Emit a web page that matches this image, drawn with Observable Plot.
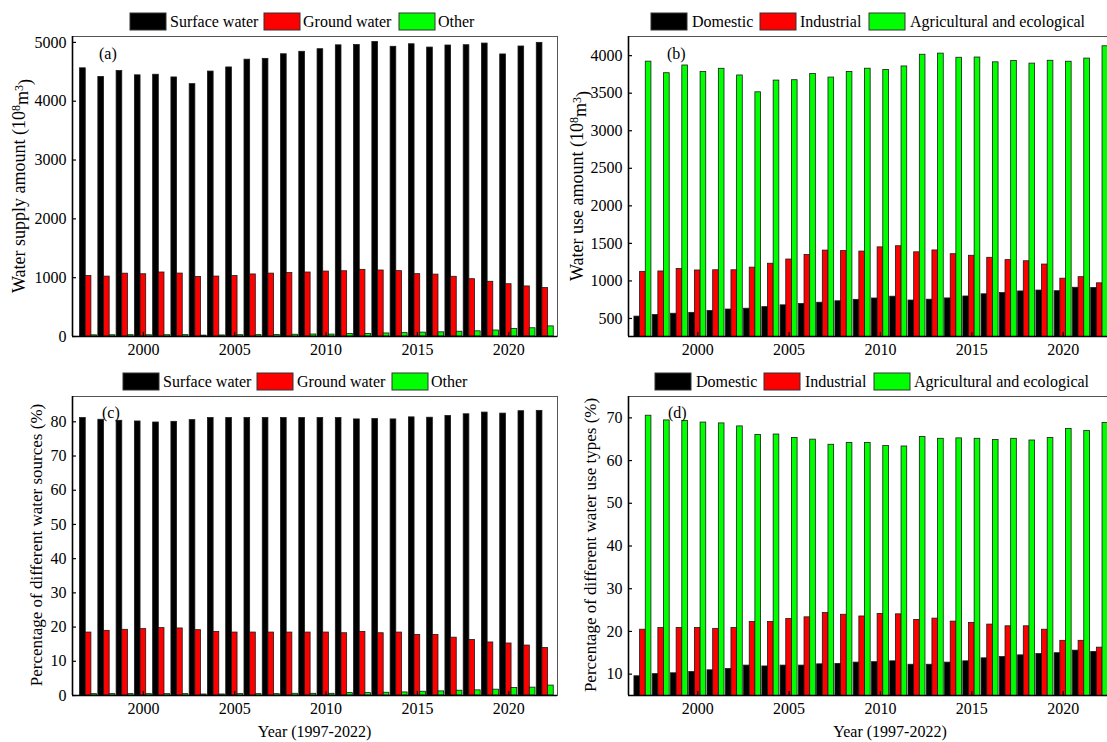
<!DOCTYPE html>
<html>
<head>
<meta charset="utf-8">
<script src="https://cdn.jsdelivr.net/npm/d3@7"></script>
<script src="https://cdn.jsdelivr.net/npm/@observablehq/plot@0.6"></script>
<style>
  html, body { margin: 0; padding: 0; background: #fff; }
  #figure { position: relative; width: 1107px; height: 742px; overflow: hidden; background: #fff; }
  #figure > svg { position: absolute; }
  #figure svg, #figure svg text { font-family: "Liberation Serif", "Times New Roman", serif; }
  #figure svg [aria-label$="tick label"] text, #figure svg g[aria-label$="tick label"] { font-size: 16px; }
</style>
</head>
<body>
<div id="figure"></div>
<script>
// Water supply and use, 1997-2022 (10^8 m^3 and shares in %)
const years = [1997, 1998, 1999, 2000, 2001, 2002, 2003, 2004, 2005, 2006, 2007, 2008, 2009,
               2010, 2011, 2012, 2013, 2014, 2015, 2016, 2017, 2018, 2019, 2020, 2021, 2022];

const sourceNames = ["Surface water", "Ground water", "Other"];
const useNames = ["Domestic", "Industrial", "Agricultural and ecological"];
const barColors = ["#000000", "#ff0000", "#00ff00"];

// (a) supply by source
const supplySurface = [4559, 4412, 4514, 4440, 4450, 4404, 4290, 4504, 4574, 4706, 4720, 4798, 4840,
                       4884, 4950, 4955, 5006, 4925, 4968, 4912, 4947, 4952, 4980, 4795, 4930, 4992];
const supplyGround  = [1028, 1018, 1068, 1058, 1088, 1070, 1013, 1019, 1027, 1055, 1069, 1078, 1088,
                       1104, 1109, 1133, 1122, 1111, 1060, 1052, 1015, 974, 930, 889, 851, 824];
const supplyOther   = [20, 21, 22, 21, 22, 23, 15, 18, 22, 23, 26, 30, 34,
                       33, 42, 44, 52, 57, 66, 71, 81, 88, 102, 127, 140, 172];

// (b) use by sector
const useDomestic   = [525, 545, 563, 575, 600, 619, 630, 651, 675, 693, 710, 729, 748,
                       766, 790, 739, 750, 767, 793, 822, 838, 860, 872, 863, 909, 906];
const useIndustrial = [1121, 1126, 1159, 1139, 1142, 1142, 1177, 1229, 1285, 1344, 1404, 1397, 1391,
                       1447, 1462, 1381, 1406, 1356, 1335, 1308, 1277, 1262, 1218, 1030, 1050, 968];
const useAgriEco    = [3920, 3766, 3869, 3784, 3825, 3736, 3512, 3668, 3673, 3757, 3708, 3783, 3826,
                       3809, 3856, 4012, 4027, 3972, 3975, 3911, 3928, 3894, 3932, 3919, 3961, 4125];

// (c) share of each source (%)
const pctSurface = [81.1, 80.6, 80.3, 80.1, 79.8, 80.0, 80.5, 81.1, 81.1, 81.1, 81.1, 81.1, 81.1,
                    81.1, 81.1, 80.7, 80.8, 80.7, 81.3, 81.2, 81.7, 82.2, 82.7, 82.4, 83.1, 83.2];
const pctGround  = [18.4, 18.9, 19.2, 19.4, 19.7, 19.6, 19.1, 18.6, 18.4, 18.4, 18.4, 18.4, 18.4,
                    18.4, 18.2, 18.6, 18.2, 18.4, 17.7, 17.7, 16.9, 16.2, 15.5, 15.2, 14.6, 13.9];
const pctOther   = [0.4, 0.4, 0.4, 0.4, 0.4, 0.4, 0.3, 0.3, 0.4, 0.4, 0.4, 0.5, 0.5,
                    0.5, 0.7, 0.7, 0.8, 0.9, 1.1, 1.2, 1.4, 1.5, 1.7, 2.2, 2.3, 2.9];

// (d) share of each use type (%)
const pctDomestic   = [9.5, 10.0, 10.2, 10.5, 10.9, 11.2, 12.0, 11.8, 12.0, 12.0, 12.3, 12.4, 12.7,
                       12.8, 13.0, 12.2, 12.2, 12.7, 13.0, 13.7, 14.0, 14.4, 14.7, 14.9, 15.5, 15.2];
const pctIndustrial = [20.4, 20.8, 20.8, 20.8, 20.6, 20.8, 22.2, 22.2, 22.9, 23.3, 24.3, 23.9, 23.5,
                       24.1, 24.0, 22.7, 23.0, 22.3, 22.0, 21.6, 21.2, 21.2, 20.4, 17.8, 17.8, 16.2];
const pctAgriEco    = [70.5, 69.4, 69.3, 68.9, 68.7, 68.0, 66.0, 66.1, 65.3, 64.9, 63.7, 64.1, 64.1,
                       63.4, 63.3, 65.5, 65.1, 65.2, 65.1, 64.8, 65.1, 64.7, 65.3, 67.4, 66.9, 68.8];

const xTickValues = [2000, 2005, 2010, 2015, 2020];
const yTicksA = [0, 1000, 2000, 3000, 4000, 5000];
const yTicksB = [500, 1000, 1500, 2000, 2500, 3000, 3500, 4000];
const yTicksC = [0, 10, 20, 30, 40, 50, 60, 70, 80];
const yTicksD = [10, 20, 30, 40, 50, 60, 70];

const FONT = "'Liberation Serif', 'Times New Roman', serif";
const BAR = 0.31;   // width of one bar, in years

function rowsOf(names, seriesList) {
  const rows = [];
  years.forEach((year, i) => {
    seriesList.forEach((values, k) => rows.push({year, k, series: names[k], value: values[i]}));
  });
  return rows;
}

const panels = [
  {left: 0,   top: 0,   width: 560, height: 360, mL: 72, mR: 3, mT: 36, mB: 24,
   xDomain: [1996.12, 2022.67], yDomain: [0, 5100], yTicks: yTicksA,
   names: sourceNames, data: rowsOf(sourceNames, [supplySurface, supplyGround, supplyOther])},
  {left: 560, top: 0,   width: 600, height: 360, mL: 68, mR: 8, mT: 36, mB: 24,
   xDomain: [1996.21, 2024.89], yDomain: [260, 4255], yTicks: yTicksB,
   names: useNames, data: rowsOf(useNames, [useDomestic, useIndustrial, useAgriEco])},
  {left: 0,   top: 360, width: 560, height: 382, mL: 72, mR: 3, mT: 36, mB: 47,
   xDomain: [1996.12, 2022.67], yDomain: [0, 87.4], yTicks: yTicksC,
   names: sourceNames, data: rowsOf(sourceNames, [pctSurface, pctGround, pctOther])},
  {left: 560, top: 360, width: 600, height: 382, mL: 68, mR: 8, mT: 36, mB: 47,
   xDomain: [1996.21, 2024.89], yDomain: [5, 75], yTicks: yTicksD,
   names: useNames, data: rowsOf(useNames, [pctDomestic, pctIndustrial, pctAgriEco])}
];

const figure = document.getElementById("figure");

for (const p of panels) {
  const frameW = p.width - p.mL - p.mR;
  const frameH = p.height - p.mT - p.mB;
  const chart = Plot.plot({
    width: p.width, height: p.height,
    marginLeft: p.mL, marginRight: p.mR, marginTop: p.mT, marginBottom: p.mB,
    style: {fontFamily: FONT, fontSize: "16px", background: "transparent", overflow: "visible", color: "#000"},
    x: {type: "linear", domain: p.xDomain, ticks: xTickValues, tickSize: 0, tickPadding: 7,
        tickFormat: d => String(d), label: null},
    y: {type: "linear", domain: p.yDomain, ticks: p.yTicks, tickSize: 0, tickPadding: 6,
        tickFormat: d => String(d), label: null},
    color: {domain: p.names, range: barColors},
    marks: [
      Plot.rectY(p.data, {
        x1: d => d.year + (d.k - 1.5) * BAR,
        x2: d => d.year + (d.k - 0.5) * BAR,
        y1: 0, y2: "value", fill: "series",
        stroke: "#1a1a1a", strokeWidth: 0.8, clip: true
      }),
      Plot.frame({stroke: "#555", strokeWidth: 1}),
      Plot.ruleY([p.yDomain[0]], {stroke: "#000", strokeWidth: 1.6}),
      Plot.ruleX([p.xDomain[0]], {stroke: "#000", strokeWidth: 1.6}),
      Plot.tickX(xTickValues, {x: d => d, insetTop: frameH - 4, stroke: "#000", strokeWidth: 1.2}),
      Plot.tickY(p.yTicks, {y: d => d, insetRight: frameW - 4, stroke: "#000", strokeWidth: 1.2})
    ]
  });
  chart.style.left = p.left + "px";
  chart.style.top = p.top + "px";
  chart.querySelectorAll("text").forEach(t => {
    t.style.fontFamily = FONT;
    t.style.fontSize = "16px";
  });
  figure.appendChild(chart);
}

// Legends, panel tags and axis titles
const overlay = d3.select(figure).append("svg")
  .attr("width", 1107).attr("height", 742)
  .style("left", "0px").style("top", "0px")
  .style("font-family", FONT).style("font-size", "16px");

const legendSpecs = [
  {y: 13,  names: sourceNames, swatchX: [130, 264, 399], textX: [170, 303, 438]},
  {y: 13,  names: useNames,    swatchX: [651, 760, 869], textX: [692, 800, 910]},
  {y: 373, names: sourceNames, swatchX: [123, 257, 392], textX: [163, 297, 431]},
  {y: 373, names: useNames,    swatchX: [655, 764, 874], textX: [696, 805, 914]}
];
for (const L of legendSpecs) {
  L.names.forEach((name, k) => {
    overlay.append("rect").attr("x", L.swatchX[k]).attr("y", L.y).attr("width", 36).attr("height", 17)
      .attr("fill", barColors[k]).attr("stroke", "#333").attr("stroke-width", 1);
    overlay.append("text").attr("x", L.textX[k]).attr("y", L.y + 14).text(name);
  });
}

const tags = [["(a)", 99, 59], ["(b)", 667, 59], ["(c)", 102, 418], ["(d)", 668, 418]];
for (const [t, x, y] of tags) overlay.append("text").attr("x", x).attr("y", y).text(t);

function unitTitle(cx, cy, main) {
  const t = overlay.append("text")
    .attr("transform", `translate(${cx},${cy}) rotate(-90)`)
    .attr("text-anchor", "middle").attr("dy", "0.35em").style("font-size", "18px");
  t.append("tspan").text(main + " (10");
  t.append("tspan").attr("dy", "-0.45em").style("font-size", "12px").text("8");
  t.append("tspan").attr("dy", "0.45em").text("m");
  t.append("tspan").attr("dy", "-0.45em").style("font-size", "12px").text("3");
  t.append("tspan").attr("dy", "0.45em").text(")");
}
unitTitle(19, 186, "Water supply amount");
unitTitle(577, 186, "Water use amount");

function plainTitle(cx, cy, label) {
  overlay.append("text")
    .attr("transform", `translate(${cx},${cy}) rotate(-90)`)
    .attr("text-anchor", "middle").attr("dy", "0.35em").style("font-size", "17px").text(label);
}
plainTitle(36, 545, "Percentage of different water sources (%)");
plainTitle(590, 545, "Percentage of different water use types (%)");

overlay.append("text").attr("x", 314.5).attr("y", 737).attr("text-anchor", "middle").text("Year (1997-2022)");
overlay.append("text").attr("x", 890).attr("y", 737).attr("text-anchor", "middle").text("Year (1997-2022)");
</script>
</body>
</html>
